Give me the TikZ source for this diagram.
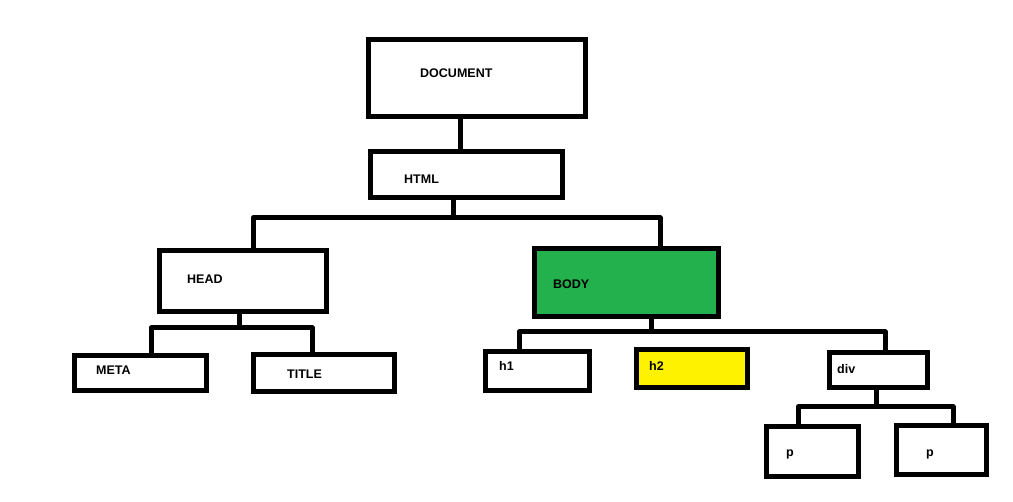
\documentclass[tikz,border=0pt]{standalone}
\usepackage{fontspec}
\setmainfont{Liberation Sans}
\definecolor{paintgreen}{HTML}{22B14C}
\definecolor{paintyellow}{HTML}{FFF200}
\begin{document}
\begin{tikzpicture}[x=1pt,y=-1pt,
  box/.style={draw=black, line width=5pt, inner sep=0pt, rectangle},
  lbl/.style={anchor=base west, inner sep=0pt, font=\fontsize{12.5}{14}\selectfont\bfseries},
  conn/.style={draw=black, line width=5pt, line join=round}]
\useasboundingbox[fill=white] (0,0) rectangle (1013,502);
% boxes
\node[box, minimum width=217pt, minimum height=77pt] (doc) at (477,78) {};
\node[box, minimum width=192pt, minimum height=46pt] (html) at (466.5,174.5) {};
\node[box, minimum width=167pt, minimum height=61pt] (head) at (243,281) {};
\node[box, fill=paintgreen, minimum width=184pt, minimum height=68pt] (body) at (626.5,282.5) {};
\node[box, minimum width=132pt, minimum height=35pt] (meta) at (140.5,373) {};
\node[box, minimum width=141pt, minimum height=37pt] (title) at (324,373) {};
\node[box, minimum width=104pt, minimum height=39pt] (hone) at (537.5,371) {};
\node[box, fill=paintyellow, minimum width=111pt, minimum height=38pt] (htwo) at (692,368.5) {};
\node[box, minimum width=98pt, minimum height=35pt] (div) at (878.5,370) {};
\node[box, minimum width=92pt, minimum height=50pt] (pone) at (812.5,451.5) {};
\node[box, minimum width=90pt, minimum height=49pt] (ptwo) at (941.5,450) {};
% labels
\node[lbl] (tdoc) at (420,78) {DOCUMENT};
\node[lbl] (thtml) at (404,184) {HTML};
\node[lbl] (thead) at (187,284) {HEAD};
\node[lbl] (tbody) at (553,289) {BODY};
\node[lbl] (tmeta) at (96,375) {META};
\node[lbl] (ttitle) at (287,379) {TITLE};
\node[lbl] (thone) at (499,371) {h1};
\node[lbl] (thtwo) at (649,371) {h2};
\node[lbl] (tdiv) at (837,374) {div};
\node[lbl] (tpone) at (786,457) {p};
\node[lbl] (tptwo) at (926,457) {p};
% junctions
\coordinate (jhtml) at (453,218);
\coordinate (jhead) at (239,328);
\coordinate (jbody) at (651,332);
\coordinate (jdiv) at (876,407);
% connectors
\draw[conn] (doc.south -| 460,0) -- (html.north -| 460,0);
\draw[conn] (html.south -| jhtml) -- (jhtml);
\draw[conn] (head.north -| 253,0) |- (jhtml) -| (body.north -| 660,0);
\draw[conn] (head.south -| jhead) -- (jhead);
\draw[conn] (meta.north -| 151,0) |- (jhead) -| (title.north -| 312,0);
\draw[conn] (body.south -| jbody) -- (jbody);
\draw[conn] (hone.north -| 519,0) |- (jbody) -| (div.north -| 885,0);
\draw[conn] (htwo.north -| 698,0) -- (htwo.north -| 698,332);
\draw[conn] (div.south -| jdiv) -- (jdiv);
\draw[conn] (pone.north -| 798,0) |- (jdiv) -| (ptwo.north -| 953,0);
\end{tikzpicture}
\end{document}
